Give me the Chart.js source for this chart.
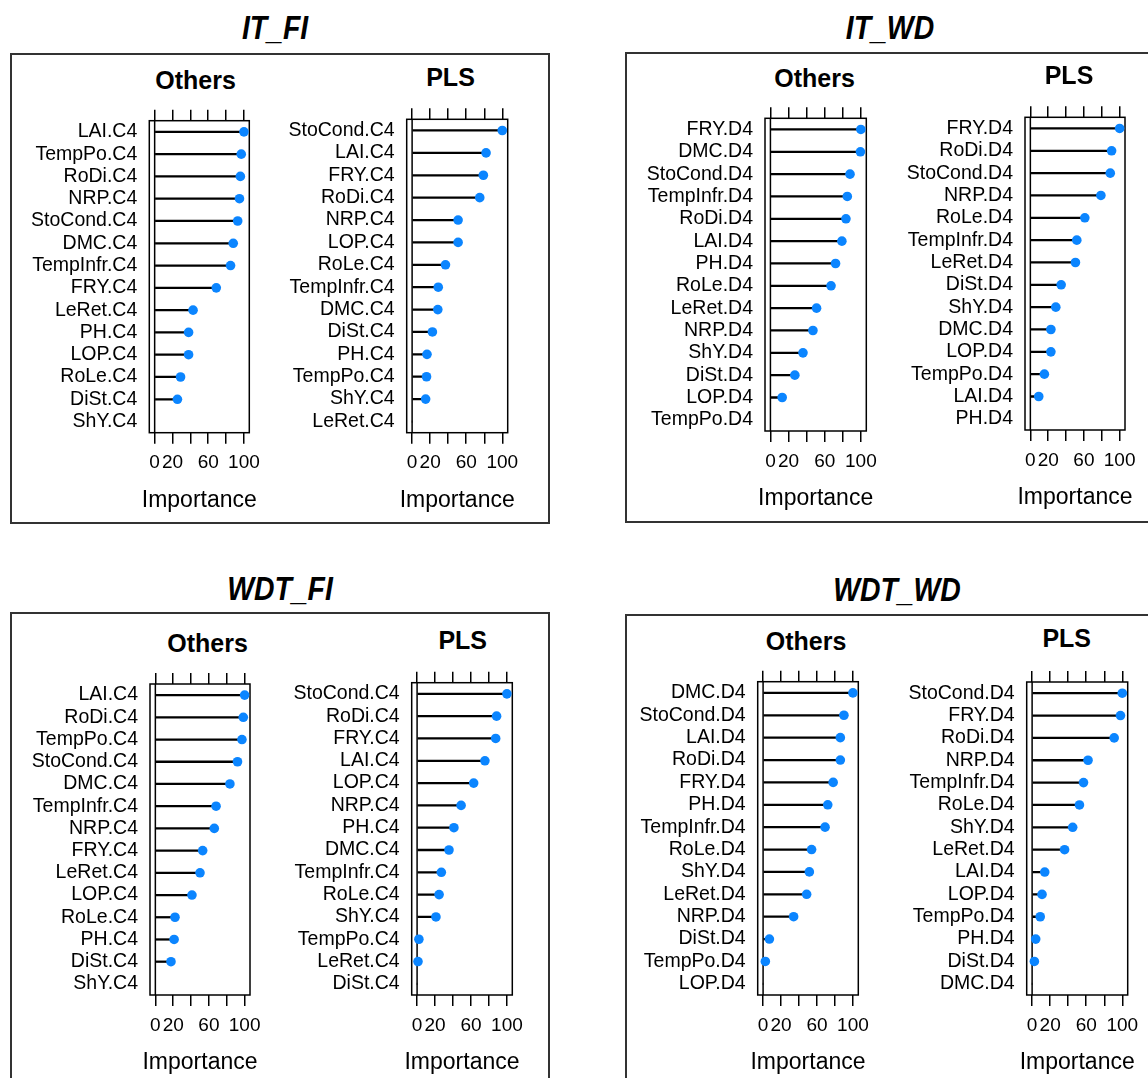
<!DOCTYPE html>
<html>
<head>
<meta charset="utf-8">
<script src="https://cdn.jsdelivr.net/npm/chart.js@4.4.0/dist/chart.umd.min.js"></script>
<style>
  html, body { margin: 0; padding: 0; background: #fff; }
  body { width: 1148px; height: 1078px; overflow: hidden; position: relative;
         font-family: "Liberation Sans", Arial, sans-serif; color: #000; }
  .panel { position: absolute; border: 2px solid #333; box-sizing: border-box; }
  .ptitle { position: absolute; width: 300px; height: 40px; line-height: 40px; text-align: center;
            font-size: 33px; font-weight: bold; font-style: italic; transform: scaleX(0.86); }
  .head { position: absolute; width: 200px; height: 30px; line-height: 30px; text-align: center;
          font-size: 25px; font-weight: bold; }
  canvas { position: absolute; }
</style>
</head>
<body>
<div class="panel" style="left:10px;top:53px;width:540px;height:471px"></div>
<div class="panel" style="left:625px;top:52px;width:600px;height:471px"></div>
<div class="panel" style="left:10px;top:612px;width:540px;height:520px"></div>
<div class="panel" style="left:625px;top:614px;width:600px;height:520px"></div>

<script>
var tickValues = [0, 20, 40, 60, 80, 100];
var tickText = ['0', '20', '', '60', '', '100'];
var xTitle = 'Importance';

var panelTitles = ['IT_FI', 'IT_WD', 'WDT_FI', 'WDT_WD'];
var subTitles = ['Others', 'PLS'];

// IT_FI
var itFiOthersLabels = ['LAI.C4', 'TempPo.C4', 'RoDi.C4', 'NRP.C4', 'StoCond.C4', 'DMC.C4', 'TempInfr.C4',
    'FRY.C4', 'LeRet.C4', 'PH.C4', 'LOP.C4', 'RoLe.C4', 'DiSt.C4', 'ShY.C4'];
var itFiOthersValues = [100, 97, 96, 95, 93, 88, 85, 69, 43, 38, 38, 29, 25.5, 0];
var itFiPlsLabels = ['StoCond.C4', 'LAI.C4', 'FRY.C4', 'RoDi.C4', 'NRP.C4', 'LOP.C4', 'RoLe.C4',
    'TempInfr.C4', 'DMC.C4', 'DiSt.C4', 'PH.C4', 'TempPo.C4', 'ShY.C4', 'LeRet.C4'];
var itFiPlsValues = [100, 82, 79, 75, 51, 51, 37, 29, 28.5, 22.5, 16.5, 16, 15, 0];

// IT_WD
var itWdOthersLabels = ['FRY.D4', 'DMC.D4', 'StoCond.D4', 'TempInfr.D4', 'RoDi.D4', 'LAI.D4', 'PH.D4',
    'RoLe.D4', 'LeRet.D4', 'NRP.D4', 'ShY.D4', 'DiSt.D4', 'LOP.D4', 'TempPo.D4'];
var itWdOthersValues = [100, 99.5, 88, 85, 83.5, 79, 72, 67, 51, 47, 36, 27, 13, 0];
var itWdPlsLabels = ['FRY.D4', 'RoDi.D4', 'StoCond.D4', 'NRP.D4', 'RoLe.D4', 'TempInfr.D4', 'LeRet.D4',
    'DiSt.D4', 'ShY.D4', 'DMC.D4', 'LOP.D4', 'TempPo.D4', 'LAI.D4', 'PH.D4'];
var itWdPlsValues = [100, 91, 89.5, 79, 61, 52, 50.5, 34.5, 28.5, 23, 23, 15.7, 9.4, 0];

// WDT_FI
var wdtFiOthersLabels = ['LAI.C4', 'RoDi.C4', 'TempPo.C4', 'StoCond.C4', 'DMC.C4', 'TempInfr.C4', 'NRP.C4',
    'FRY.C4', 'LeRet.C4', 'LOP.C4', 'RoLe.C4', 'PH.C4', 'DiSt.C4', 'ShY.C4'];
var wdtFiOthersValues = [100, 98.5, 97, 92, 83.5, 68, 66, 53, 50, 41, 22, 21, 17.5, 0];
var wdtFiPlsLabels = ['StoCond.C4', 'RoDi.C4', 'FRY.C4', 'LAI.C4', 'LOP.C4', 'NRP.C4', 'PH.C4',
    'DMC.C4', 'TempInfr.C4', 'RoLe.C4', 'ShY.C4', 'TempPo.C4', 'LeRet.C4', 'DiSt.C4'];
var wdtFiPlsValues = [100, 88.5, 87.5, 75.5, 63, 49, 41, 35.5, 27, 24.5, 21, 2, 1, 0];

// WDT_WD
var wdtWdOthersLabels = ['DMC.D4', 'StoCond.D4', 'LAI.D4', 'RoDi.D4', 'FRY.D4', 'PH.D4', 'TempInfr.D4',
    'RoLe.D4', 'ShY.D4', 'LeRet.D4', 'NRP.D4', 'DiSt.D4', 'TempPo.D4', 'LOP.D4'];
var wdtWdOthersValues = [100, 90, 86, 86, 78, 72, 69, 54, 51.5, 48.5, 34, 7, 2.5, 0];
var wdtWdPlsLabels = ['StoCond.D4', 'FRY.D4', 'RoDi.D4', 'NRP.D4', 'TempInfr.D4', 'RoLe.D4', 'ShY.D4',
    'LeRet.D4', 'LAI.D4', 'LOP.D4', 'TempPo.D4', 'PH.D4', 'DiSt.D4', 'DMC.D4'];
var wdtWdPlsValues = [100, 98, 91, 62, 57, 52.5, 45, 36, 14, 11, 9, 4, 2.5, 0];


// layout: plot box left, top, right, bottom, header centre x, header centre y
var panelTitlePos = [[275, 28], [890, 28], [280, 589], [897, 590]];
var chartBoxes = [
    [149.3, 120.7, 249.3, 432.7, 195.6, 80],
    [406.7, 119.3, 507.7, 432.7, 450.5, 77],
    [765, 118.3, 866.3, 431, 814.5, 78],
    [1025, 117.3, 1125, 430, 1069, 75],
    [150, 684, 250, 995, 207.5, 643],
    [411.7, 682.7, 512.3, 995, 462.7, 640],
    [757.7, 681.7, 858.3, 995, 806, 641],
    [1026.7, 682, 1127.7, 995, 1066.7, 638]
];

var yAxisWidth = 140;
var bottomAxisHeight = 81;
var tickLen = 11;
var dotColor = '#0b85ff';
var fontFamily = '"Liberation Sans", Arial, sans-serif';

Chart.defaults.font.family = fontFamily;
Chart.defaults.color = '#000';

// frame around the plot, the line at zero and the axis title
var boxPlugin = {
    id: 'box',
    beforeDatasetsDraw: function (chart) {
        var ctx = chart.ctx, a = chart.chartArea;
        var x0 = chart.scales.x.getPixelForValue(0);
        ctx.save();
        ctx.strokeStyle = '#000';
        ctx.lineWidth = 1.5;
        ctx.strokeRect(a.left, a.top, a.right - a.left, a.bottom - a.top);
        ctx.beginPath();
        ctx.moveTo(x0, a.top);
        ctx.lineTo(x0, a.bottom);
        ctx.stroke();
        ctx.restore();
    },
    afterDraw: function (chart) {
        var ctx = chart.ctx, a = chart.chartArea;
        ctx.save();
        ctx.fillStyle = '#000';
        ctx.font = '23px ' + fontFamily;
        ctx.textAlign = 'center';
        ctx.textBaseline = 'middle';
        ctx.fillText(xTitle, (a.left + a.right) / 2, a.bottom + 67.5);
        ctx.restore();
    }
};

function addText(cls, text, cx, cy) {
    var d = document.createElement('div');
    d.className = cls;
    d.textContent = text;
    document.body.appendChild(d);
    d.style.left = (cx - d.offsetWidth / 2) + 'px';
    d.style.top = (cy - d.offsetHeight / 2) + 'px';
}

function setTicks(scale) {
    scale.ticks = tickValues.map(function (v) { return { value: v }; });
}

function lollipop(labels, values, header, box) {
    var L = box[0], T = box[1], R = box[2], B = box[3];
    var left = Math.floor(L) - yAxisWidth;
    var top = Math.floor(T) - tickLen - 2;
    var width = Math.ceil(R) + 20 - left;
    var height = Math.ceil(B) + bottomAxisHeight + 2 - top;

    var canvas = document.createElement('canvas');
    canvas.width = width;
    canvas.height = height;
    canvas.style.left = left + 'px';
    canvas.style.top = top + 'px';
    document.body.appendChild(canvas);

    addText('head', header, box[4], box[5]);

    new Chart(canvas, {
        type: 'bar',
        data: {
            labels: labels,
            datasets: [{
                type: 'line',
                data: values,
                indexAxis: 'y',
                xAxisID: 'x',
                yAxisID: 'y',
                showLine: false,
                pointRadius: function (c) { return c.raw === 0 ? 0 : 4.8; },
                pointBackgroundColor: dotColor,
                pointBorderWidth: 0,
                pointHoverRadius: 0
            }, {
                type: 'bar',
                data: values,
                indexAxis: 'y',
                xAxisID: 'x',
                yAxisID: 'y',
                backgroundColor: '#000',
                barThickness: 1.6
            }]
        },
        options: {
            indexAxis: 'y',
            responsive: false,
            animation: false,
            events: [],
            layout: {
                padding: {
                    left: L - yAxisWidth - left,
                    top: T - tickLen - top,
                    right: left + width - R,
                    bottom: top + height - bottomAxisHeight - B
                }
            },
            plugins: { legend: { display: false }, tooltip: { enabled: false } },
            scales: {
                x: {
                    type: 'linear',
                    position: 'bottom',
                    min: -6,
                    max: 106,
                    afterBuildTicks: setTicks,
                    afterFit: function (s) { s.height = bottomAxisHeight; s.paddingLeft = 0; s.paddingRight = 0; },
                    grid: { drawOnChartArea: false, drawTicks: true, tickLength: tickLen, color: '#000', lineWidth: 1.5 },
                    border: { display: false },
                    ticks: {
                        autoSkip: false,
                        maxRotation: 0,
                        padding: 8,
                        font: { size: 19 },
                        callback: function (v) { return tickText[tickValues.indexOf(v)]; }
                    }
                },
                x2: {
                    type: 'linear',
                    position: 'top',
                    min: -6,
                    max: 106,
                    afterBuildTicks: setTicks,
                    afterFit: function (s) { s.height = tickLen; s.paddingLeft = 0; s.paddingRight = 0; },
                    grid: { drawOnChartArea: false, drawTicks: true, tickLength: tickLen, color: '#000', lineWidth: 1.5 },
                    border: { display: false },
                    ticks: { display: false }
                },
                y: {
                    type: 'category',
                    offset: true,
                    afterFit: function (s) { s.width = yAxisWidth; s.paddingTop = 0; s.paddingBottom = 0; },
                    grid: { display: false, drawTicks: false },
                    border: { display: false },
                    ticks: { autoSkip: false, padding: 12, font: { size: 19.5 } }
                }
            }
        },
        plugins: [boxPlugin]
    });
}

panelTitles.forEach(function (t, i) {
    addText('ptitle', t, panelTitlePos[i][0], panelTitlePos[i][1]);
});

lollipop(itFiOthersLabels, itFiOthersValues, subTitles[0], chartBoxes[0]);
lollipop(itFiPlsLabels, itFiPlsValues, subTitles[1], chartBoxes[1]);
lollipop(itWdOthersLabels, itWdOthersValues, subTitles[0], chartBoxes[2]);
lollipop(itWdPlsLabels, itWdPlsValues, subTitles[1], chartBoxes[3]);
lollipop(wdtFiOthersLabels, wdtFiOthersValues, subTitles[0], chartBoxes[4]);
lollipop(wdtFiPlsLabels, wdtFiPlsValues, subTitles[1], chartBoxes[5]);
lollipop(wdtWdOthersLabels, wdtWdOthersValues, subTitles[0], chartBoxes[6]);
lollipop(wdtWdPlsLabels, wdtWdPlsValues, subTitles[1], chartBoxes[7]);
</script>
</body>
</html>
